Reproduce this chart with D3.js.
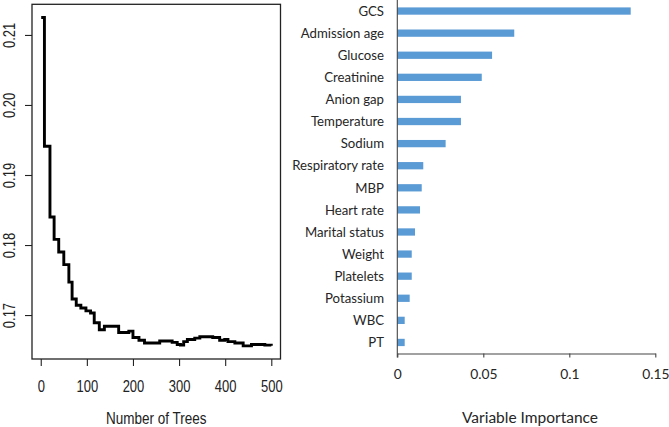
<!DOCTYPE html>
<html><head><meta charset="utf-8">
<script src="https://cdn.jsdelivr.net/npm/d3@7"></script>
<style>body{margin:0;background:#fff} svg{display:block}</style>
</head><body><svg id="c" width="669" height="427"></svg>
<script>
// ---- Left panel data: OOB error vs number of trees (step breakpoints) ----
const trees = [1, 8, 20, 29, 39, 50, 61, 68, 77, 87, 98, 108, 116, 127, 138, 169, 191, 200, 213, 225, 258, 285, 296, 303, 310, 318, 334, 345, 373, 388, 399, 406, 421, 439, 457, 486, 500];
const errorRate = [0.2125, 0.1941, 0.1840, 0.1808, 0.1790, 0.1772, 0.1747, 0.1723, 0.1714, 0.1710, 0.1706, 0.1703, 0.1689, 0.1679, 0.1684, 0.1675, 0.1677, 0.1668, 0.1664, 0.1660, 0.1663, 0.1661, 0.1658, 0.1657, 0.1662, 0.1665, 0.1667, 0.1669, 0.1668, 0.1664, 0.1665, 0.1662, 0.1660, 0.1656, 0.1658, 0.1657, 0.1656];
const leftXTicks = [0, 100, 200, 300, 400, 500];
const leftYTicks = [0.17, 0.18, 0.19, 0.20, 0.21];
const leftXTitle = "Number of Trees";

// ---- Right panel data: variable importance ----
const variables = ["GCS", "Admission age", "Glucose", "Creatinine", "Anion gap", "Temperature", "Sodium", "Respiratory rate", "MBP", "Heart rate", "Marital status", "Weight", "Platelets", "Potassium", "WBC", "PT"];
const importance = [0.1357, 0.0680, 0.0551, 0.0491, 0.0370, 0.0370, 0.0281, 0.0151, 0.0142, 0.0132, 0.0103, 0.0084, 0.0084, 0.0072, 0.0043, 0.0043];
const rightXTicks = [0, 0.05, 0.1, 0.15];
const rightXTickLabels = ["0", "0.05", "0.1", "0.15"];
const rightXTitle = "Variable Importance";

const svg = d3.select("#c");

// ================= LEFT PANEL =================
const L = {left: 32, right: 280.5, top: 4.3, bottom: 359};
const nExt = d3.extent(trees), nPad = (nExt[1] - nExt[0]) * 0.04;
const xL = d3.scaleLinear().domain([nExt[0] - nPad, nExt[1] + nPad]).range([L.left, L.right]);
const eExt = d3.extent(errorRate), ePad = (eExt[1] - eExt[0]) * 0.04;
const yL = d3.scaleLinear().domain([eExt[0] - ePad, eExt[1] + ePad]).range([L.bottom, L.top]);

const leftFont = "'Liberation Sans', Arial, sans-serif";
const ink = "#222";

const gxL = svg.append("g").attr("transform", `translate(0,${L.bottom})`)
  .call(d3.axisBottom(xL).tickValues(leftXTicks).tickSize(7).tickSizeOuter(0).tickFormat(d3.format("d")));
gxL.select(".domain").remove();
gxL.selectAll("line").attr("stroke", ink).attr("stroke-width", 1.1);
gxL.selectAll("text").attr("y", 0).attr("dy", null)
  .attr("transform", "translate(0,33) scale(1,1.25)")
  .attr("fill", ink).style("font-family", leftFont).style("font-size", "13px");

const gyL = svg.append("g").attr("transform", `translate(${L.left},0)`)
  .call(d3.axisLeft(yL).tickValues(leftYTicks).tickSize(7).tickSizeOuter(0).tickFormat(d3.format(".2f")));
gyL.select(".domain").remove();
gyL.selectAll("line").attr("stroke", ink).attr("stroke-width", 1.1);
gyL.selectAll("text")
  .attr("x", null).attr("dy", null)
  .attr("text-anchor", "middle")
  .attr("transform", "translate(-17,0) rotate(-90) scale(1,1.3)")
  .attr("fill", ink).style("font-family", leftFont).style("font-size", "13px");

svg.append("rect").attr("x", L.left).attr("y", L.top)
  .attr("width", L.right - L.left).attr("height", L.bottom - L.top)
  .attr("fill", "none").attr("stroke", ink).attr("stroke-width", 1.3);

const lineData = trees.map((n, i) => [n, errorRate[i]]);
svg.append("path").datum(lineData)
  .attr("d", d3.line().x(d => xL(d[0])).y(d => yL(d[1])).curve(d3.curveStepAfter))
  .attr("fill", "none").attr("stroke", "#000").attr("stroke-width", 2.9)
  .attr("stroke-linejoin", "miter");

svg.append("text")
  .attr("transform", `translate(${(L.left + L.right) / 2},423.5) scale(1,1.2)`)
  .attr("text-anchor", "middle").attr("fill", ink)
  .style("font-family", leftFont).style("font-size", "13.5px").text(leftXTitle);

// ================= RIGHT PANEL =================
const R = {left: 397.3, right: 655.3, top: 0, bottom: 353.5};
const xR = d3.scaleLinear().domain([0, 0.15]).range([R.left, R.right]);
const yR = d3.scaleBand().domain(variables).range([R.top, R.bottom]).paddingInner(0.67).paddingOuter(0.335);
const rightFont = "Lato, 'Open Sans', sans-serif";
const rInk = "#262626";

svg.append("g").selectAll("rect").data(variables).join("rect")
  .attr("x", xR(0)).attr("y", d => yR(d))
  .attr("width", (d, i) => xR(importance[i]) - xR(0))
  .attr("height", yR.bandwidth())
  .attr("fill", "#5B9BD5");

// category labels
svg.append("g").selectAll("text").data(variables).join("text")
  .attr("x", 384).attr("y", d => yR(d) + yR.bandwidth() / 2)
  .attr("dy", "0.36em").attr("text-anchor", "end")
  .attr("fill", rInk).style("font-family", rightFont).style("font-size", "13.2px")
  .text(d => d);

const gxR = svg.append("g").attr("transform", `translate(0,${R.bottom})`)
  .call(d3.axisBottom(xR).tickValues(rightXTicks).tickSize(4).tickSizeOuter(0).tickPadding(12)
    .tickFormat((d, i) => rightXTickLabels[i]));
gxR.select(".domain").attr("stroke", "#444").attr("stroke-width", 1.1);
gxR.selectAll("line").attr("stroke", "#444").attr("stroke-width", 1.1);
gxR.selectAll("text").attr("fill", rInk).style("font-family", rightFont).style("font-size", "13.8px");

// vertical category axis line
svg.append("line").attr("x1", R.left).attr("x2", R.left).attr("y1", R.top).attr("y2", R.bottom + 4)
  .attr("stroke", "#444").attr("stroke-width", 1.1);

svg.append("text").attr("x", 530).attr("y", 423)
  .attr("text-anchor", "middle").attr("fill", rInk)
  .style("font-family", rightFont).style("font-size", "15.5px").text(rightXTitle);
</script>
</body></html>
